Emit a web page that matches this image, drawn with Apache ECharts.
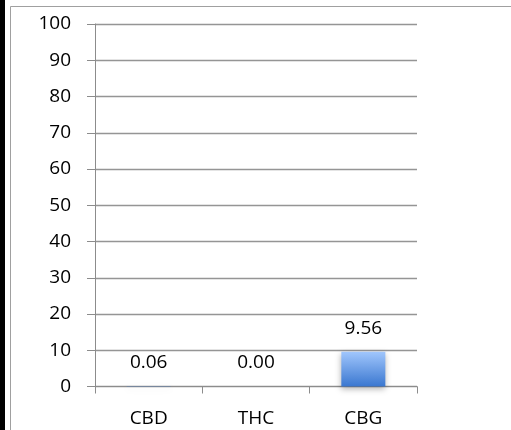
<!DOCTYPE html>
<html>
<head>
<meta charset="utf-8">
<script src="https://cdn.jsdelivr.net/npm/echarts@6/dist/echarts.min.js"></script>
<style>html,body{margin:0;padding:0;background:#fff}#c{width:511px;height:430px}</style>
</head>
<body>
<div id="c"></div>
<script>
var categories = ['CBD', 'THC', 'CBG'];
var values = [0.06, 0.00, 9.56];
var yTicks = { min: 0, max: 100, interval: 10 };

var chart = echarts.init(document.getElementById('c'), null, { renderer: 'canvas' });
var font = '"Open Sans", "Noto Sans", sans-serif';
chart.setOption({
  animation: false,
  backgroundColor: '#fff',
  graphic: [
    { type: 'rect', shape: { x: 0, y: 0, width: 5, height: 430 }, style: { fill: '#000' } },
    { type: 'line', shape: { x1: 10.5, y1: 6.5, x2: 10.5, y2: 430 }, style: { stroke: '#a0a0a0', lineWidth: 1 } },
    { type: 'line', shape: { x1: 10.5, y1: 6.5, x2: 511, y2: 6.5 }, style: { stroke: '#a0a0a0', lineWidth: 1 } }
  ],
  grid: { left: 95, right: 94, top: 24, bottom: 43.5, containLabel: false },
  xAxis: {
    type: 'category',
    data: categories,
    axisLine: { lineStyle: { color: '#8c8c8c', width: 1 } },
    axisTick: { show: true, length: 7, alignWithLabel: false, lineStyle: { color: '#8c8c8c' } },
    axisLabel: { color: '#000', fontSize: 19, fontFamily: font, margin: 23 }
  },
  yAxis: {
    type: 'value',
    min: yTicks.min, max: yTicks.max, interval: yTicks.interval,
    axisLine: { show: true, lineStyle: { color: '#8c8c8c', width: 1 } },
    axisTick: { show: true, length: 8, lineStyle: { color: '#8c8c8c' } },
    axisLabel: { color: '#000', fontSize: 19, fontFamily: font, margin: 24 },
    splitLine: { show: true, lineStyle: { color: '#959595', width: 1.3 } }
  },
  series: [{
    type: 'bar',
    data: values,
    barWidth: 44,
    itemStyle: {
      color: new echarts.graphic.LinearGradient(0, 0, 0, 1, [
        { offset: 0, color: '#a0c6fc' },
        { offset: 1, color: '#3a77d0' }
      ]),
      shadowColor: 'rgba(0,0,0,0.3)',
      shadowBlur: 6,
      shadowOffsetY: 2
    },
    label: {
      show: true,
      position: 'top',
      distance: 14,
      color: '#000',
      fontSize: 19,
      fontFamily: font,
      formatter: function (p) { return p.value.toFixed(2); }
    }
  }]
});
</script>
</body>
</html>
